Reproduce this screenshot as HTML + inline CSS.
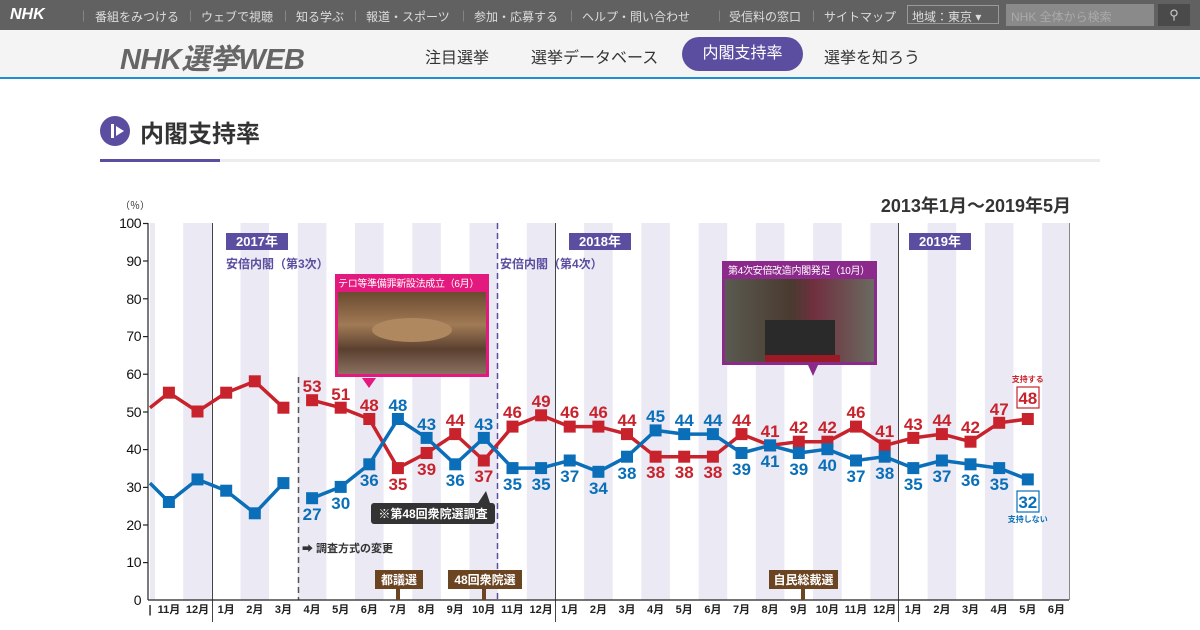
<!DOCTYPE html>
<html><head><meta charset="utf-8"><style>
body{margin:0;width:1200px;height:630px;overflow:hidden;background:#fff;font-family:"Liberation Sans","Noto Sans CJK JP",sans-serif;position:relative}
.top{position:absolute;left:0;top:0;width:1200px;height:30px;background:#616161;color:#ddd;font-size:12px}
.top span{position:absolute;top:8px}
.sub{position:absolute;left:0;top:30px;width:1200px;height:47px;background:#f4f4f4;border-bottom:2px solid #1f8fcf}
.sub .n{position:absolute;top:14px;font-size:16px;color:#333}
</style></head><body>
<div class="top">
<span style="left:10px;top:6px;font:italic bold 16px 'Liberation Sans',sans-serif;color:#fff">NHK</span>
<span style="left:82px;color:#888">|</span><span style="left:95px">番組をみつける</span>
<span style="left:189px;color:#888">|</span><span style="left:201px">ウェブで視聴</span>
<span style="left:284px;color:#888">|</span><span style="left:296px">知る学ぶ</span>
<span style="left:354px;color:#888">|</span><span style="left:366px">報道・スポーツ</span>
<span style="left:462px;color:#888">|</span><span style="left:474px">参加・応募する</span>
<span style="left:570px;color:#888">|</span><span style="left:582px">ヘルプ・問い合わせ</span>
<span style="left:718px;color:#888">|</span><span style="left:729px">受信料の窓口</span>
<span style="left:812px;color:#888">|</span><span style="left:824px">サイトマップ</span>
<div style="position:absolute;left:907px;top:5px;width:92px;height:19px;border:1px solid #999;box-sizing:border-box;font-size:12px;padding:2px 4px">地域：東京 ▾</div>
<div style="position:absolute;left:1006px;top:4px;width:148px;height:22px;background:#8a8a8a;color:#aaa;font-size:12px;padding:4px 5px;box-sizing:border-box">NHK 全体から検索</div>
<div style="position:absolute;left:1158px;top:4px;width:32px;height:22px;background:#4a4a4a;color:#ccc;text-align:center;font-size:13px;line-height:22px">⚲</div>
</div>
<div class="sub">
<span style="position:absolute;left:120px;top:6px;font:italic bold 29px 'Liberation Sans','Noto Sans CJK JP',sans-serif;color:#666;letter-spacing:-0.5px">NHK選挙WEB</span>
<span class="n" style="left:425px">注目選挙</span>
<span class="n" style="left:531px">選挙データベース</span>
<div style="position:absolute;left:682px;top:7px;width:121px;height:34px;border-radius:17px;background:#5b4ea0;color:#fff;font-size:16px;text-align:center;line-height:34px">内閣支持率</div>
<span class="n" style="left:824px">選挙を知ろう</span>
</div>
<div style="position:absolute;left:100px;top:116px;width:30px;height:30px;border-radius:50%;background:#5b4ea0"></div>
<div style="position:absolute;left:111px;top:124px;width:3px;height:14px;background:#fff"></div>
<div style="position:absolute;left:116px;top:126px;width:0;height:0;border-left:8px solid #fff;border-top:5px solid transparent;border-bottom:5px solid transparent"></div>
<div style="position:absolute;left:140px;top:114px;font-size:24px;font-weight:bold;color:#333">内閣支持率</div>
<div style="position:absolute;left:100px;top:159px;width:1000px;height:3px;background:#ececec"></div>
<div style="position:absolute;left:100px;top:159px;width:120px;height:3px;background:#5b4ea0"></div>

<svg width="1200" height="630" style="position:absolute;left:0;top:0" font-family="Liberation Sans, Noto Sans CJK JP, sans-serif">
<g fill="#ebeaf4">
<rect x="150" y="223" width="5" height="377"/>
<rect x="183.2" y="223" width="28.6" height="377"/>
<rect x="240.5" y="223" width="28.6" height="377"/>
<rect x="297.8" y="223" width="28.6" height="377"/>
<rect x="355" y="223" width="28.6" height="377"/>
<rect x="412.3" y="223" width="28.6" height="377"/>
<rect x="469.5" y="223" width="28.6" height="377"/>
<rect x="526.8" y="223" width="28.6" height="377"/>
<rect x="584.1" y="223" width="28.6" height="377"/>
<rect x="641.3" y="223" width="28.6" height="377"/>
<rect x="698.6" y="223" width="28.6" height="377"/>
<rect x="755.8" y="223" width="28.6" height="377"/>
<rect x="813.1" y="223" width="28.6" height="377"/>
<rect x="870.4" y="223" width="28.6" height="377"/>
<rect x="927.6" y="223" width="28.6" height="377"/>
<rect x="984.9" y="223" width="28.6" height="377"/>
<rect x="1042.1" y="223" width="27" height="377"/>
</g>
<g stroke="#444" stroke-width="1">
<line x1="212.5" y1="223" x2="212.5" y2="622"/>
<line x1="555.5" y1="223" x2="555.5" y2="622"/>
<line x1="898.5" y1="223" x2="898.5" y2="622"/>
<line x1="1069.5" y1="223" x2="1069.5" y2="600" stroke="#888"/>
</g>
<line x1="298.5" y1="377" x2="298.5" y2="600" stroke="#555" stroke-width="1.5" stroke-dasharray="6,4"/>
<line x1="497.5" y1="223" x2="497.5" y2="600" stroke="#5b4ea0" stroke-width="1.5" stroke-dasharray="6,4"/>
<g stroke="#222" stroke-width="1.2">
<line x1="148" y1="223" x2="148" y2="600"/>
<line x1="148" y1="600" x2="1069" y2="600"/>
<line x1="143" y1="223.5" x2="148" y2="223.5"/><line x1="143" y1="261" x2="148" y2="261"/><line x1="143" y1="298.8" x2="148" y2="298.8"/><line x1="143" y1="336.6" x2="148" y2="336.6"/><line x1="143" y1="374.2" x2="148" y2="374.2"/><line x1="143" y1="412" x2="148" y2="412"/><line x1="143" y1="449.6" x2="148" y2="449.6"/><line x1="143" y1="487.4" x2="148" y2="487.4"/><line x1="143" y1="525" x2="148" y2="525"/><line x1="143" y1="562.6" x2="148" y2="562.6"/>
</g>
<g font-size="14" text-anchor="end" fill="#111" letter-spacing="-0.5">
<text x="141" y="228">100</text><text x="141" y="266">90</text><text x="141" y="304">80</text><text x="141" y="341">70</text><text x="141" y="379">60</text><text x="141" y="417">50</text><text x="141" y="454">40</text><text x="141" y="492">30</text><text x="141" y="530">20</text><text x="141" y="567">10</text><text x="141" y="605">0</text>
</g>
<text x="120" y="209" font-size="10" fill="#333">（％）</text>
<text x="1071" y="212" font-size="18" font-weight="bold" text-anchor="end" fill="#333">2013年1月～2019年5月</text>
<g font-size="11" font-weight="bold" text-anchor="middle" fill="#222">
<text x="150" y="613">|</text>
<text x="168.9" y="613">11月</text><text x="197.5" y="613">12月</text><text x="226.2" y="613">1月</text><text x="254.8" y="613">2月</text><text x="283.4" y="613">3月</text><text x="312.1" y="613">4月</text><text x="340.7" y="613">5月</text><text x="369.3" y="613">6月</text><text x="397.9" y="613">7月</text><text x="426.6" y="613">8月</text><text x="455.2" y="613">9月</text><text x="483.8" y="613">10月</text><text x="512.5" y="613">11月</text><text x="541.1" y="613">12月</text><text x="569.7" y="613">1月</text><text x="598.4" y="613">2月</text><text x="627" y="613">3月</text><text x="655.6" y="613">4月</text><text x="684.2" y="613">5月</text><text x="712.9" y="613">6月</text><text x="741.5" y="613">7月</text><text x="770.1" y="613">8月</text><text x="798.8" y="613">9月</text><text x="827.4" y="613">10月</text><text x="856" y="613">11月</text><text x="884.7" y="613">12月</text><text x="913.3" y="613">1月</text><text x="941.9" y="613">2月</text><text x="970.5" y="613">3月</text><text x="999.2" y="613">4月</text><text x="1027.8" y="613">5月</text><text x="1056.4" y="613">6月</text>
</g>
<rect x="226" y="233" width="62" height="17" fill="#5b4ea0"/><text x="257" y="246" font-size="13" font-weight="bold" fill="#fff" text-anchor="middle">2017年</text>
<rect x="569" y="233" width="62" height="17" fill="#5b4ea0"/><text x="600" y="246" font-size="13" font-weight="bold" fill="#fff" text-anchor="middle">2018年</text>
<rect x="909" y="233" width="62" height="17" fill="#5b4ea0"/><text x="940" y="246" font-size="13" font-weight="bold" fill="#fff" text-anchor="middle">2019年</text>
<text x="226" y="268" font-size="12" font-weight="bold" fill="#5b4ea0">安倍内閣（第3次）</text>
<text x="500" y="268" font-size="12" font-weight="bold" fill="#5b4ea0">安倍内閣（第4次）</text>
<defs>
<linearGradient id="g1" x1="0" y1="0" x2="0" y2="1"><stop offset="0" stop-color="#6b4a30"/><stop offset="0.4" stop-color="#a07a55"/><stop offset="0.7" stop-color="#5b4030"/><stop offset="1" stop-color="#8a7060"/></linearGradient>
<linearGradient id="g2" x1="0" y1="0" x2="1" y2="0"><stop offset="0" stop-color="#5a5a50"/><stop offset="0.45" stop-color="#4a3a30"/><stop offset="0.6" stop-color="#703040"/><stop offset="1" stop-color="#6a6a60"/></linearGradient>
</defs>
<rect x="335" y="274" width="154" height="103" fill="#e4197d"/>
<text x="338" y="287" font-size="10" fill="#fff" letter-spacing="-0.3">テロ等準備罪新設法成立（6月）</text>
<rect x="338" y="292" width="148" height="82" fill="url(#g1)"/>
<ellipse cx="412" cy="330" rx="40" ry="12" fill="#b08860"/>
<polygon points="362,378 376,378 369,388" fill="#e4197d"/>
<rect x="722" y="261" width="155" height="104" fill="#8c2a8c"/>
<text x="728" y="274" font-size="10" fill="#fff" letter-spacing="-0.3">第4次安倍改造内閣発足（10月）</text>
<rect x="725" y="279" width="149" height="83" fill="url(#g2)"/>
<rect x="765" y="320" width="70" height="40" fill="#2a2a2a"/>
<rect x="765" y="355" width="75" height="7" fill="#9a1a25"/>
<polygon points="808,365 818,365 813,376" fill="#8c2a8c"/>
<g fill="none" stroke-width="3.5" stroke-linejoin="round">
<polyline stroke="#c8232c" points="150,407.7 168.9,392.7 197.5,411.5 226.2,392.7 254.8,381.3 283.4,407.7"/>
<polyline stroke="#c8232c" points="312.1,400.2 340.7,407.7 369.3,419 397.9,468.1 426.6,453 455.2,434.1 483.8,460.5 512.5,426.6 541.1,415.3 569.7,426.6 598.4,426.6 627,434.1 655.6,456.7 684.2,456.7 712.9,456.7 741.5,434.1 770.1,445.4 798.8,441.7 827.4,441.7 856,426.6 884.7,445.4 913.3,437.9 941.9,434.1 970.5,441.7 999.2,422.8 1027.8,419"/>
<polyline stroke="#0a6fb8" points="150,483.1 168.9,502 197.5,479.4 226.2,490.7 254.8,513.3 283.4,483.1"/>
<polyline stroke="#0a6fb8" points="312.1,498.2 340.7,486.9 369.3,464.3 397.9,419 426.6,437.9 455.2,464.3 483.8,437.9 512.5,468.1 541.1,468.1 569.7,460.5 598.4,471.8 627,456.7 655.6,430.4 684.2,434.1 712.9,434.1 741.5,453 770.1,445.4 798.8,453 827.4,449.2 856,460.5 884.7,456.7 913.3,468.1 941.9,460.5 970.5,464.3 999.2,468.1 1027.8,479.4"/>
</g>
<g fill="#c8232c">
<rect x="162.9" y="386.7" width="12" height="12"/><rect x="191.5" y="405.5" width="12" height="12"/><rect x="220.2" y="386.7" width="12" height="12"/><rect x="248.8" y="375.3" width="12" height="12"/><rect x="277.4" y="401.7" width="12" height="12"/>
<rect x="306.1" y="394.2" width="12" height="12"/><rect x="334.7" y="401.7" width="12" height="12"/><rect x="363.3" y="413" width="12" height="12"/><rect x="391.9" y="462.1" width="12" height="12"/><rect x="420.6" y="447" width="12" height="12"/><rect x="449.2" y="428.1" width="12" height="12"/><rect x="477.8" y="454.5" width="12" height="12"/><rect x="506.5" y="420.6" width="12" height="12"/><rect x="535.1" y="409.3" width="12" height="12"/><rect x="563.7" y="420.6" width="12" height="12"/><rect x="592.4" y="420.6" width="12" height="12"/><rect x="621" y="428.1" width="12" height="12"/><rect x="649.6" y="450.7" width="12" height="12"/><rect x="678.2" y="450.7" width="12" height="12"/><rect x="706.9" y="450.7" width="12" height="12"/><rect x="735.5" y="428.1" width="12" height="12"/><rect x="764.1" y="439.4" width="12" height="12"/><rect x="792.8" y="435.7" width="12" height="12"/><rect x="821.4" y="435.7" width="12" height="12"/><rect x="850" y="420.6" width="12" height="12"/><rect x="878.7" y="439.4" width="12" height="12"/><rect x="907.3" y="431.9" width="12" height="12"/><rect x="935.9" y="428.1" width="12" height="12"/><rect x="964.5" y="435.7" width="12" height="12"/><rect x="993.2" y="416.8" width="12" height="12"/><rect x="1021.8" y="413" width="12" height="12"/>
</g>
<g fill="#0a6fb8">
<rect x="162.9" y="496" width="12" height="12"/><rect x="191.5" y="473.4" width="12" height="12"/><rect x="220.2" y="484.7" width="12" height="12"/><rect x="248.8" y="507.3" width="12" height="12"/><rect x="277.4" y="477.1" width="12" height="12"/>
<rect x="306.1" y="492.2" width="12" height="12"/><rect x="334.7" y="480.9" width="12" height="12"/><rect x="363.3" y="458.3" width="12" height="12"/><rect x="391.9" y="413" width="12" height="12"/><rect x="420.6" y="431.9" width="12" height="12"/><rect x="449.2" y="458.3" width="12" height="12"/><rect x="477.8" y="431.9" width="12" height="12"/><rect x="506.5" y="462.1" width="12" height="12"/><rect x="535.1" y="462.1" width="12" height="12"/><rect x="563.7" y="454.5" width="12" height="12"/><rect x="592.4" y="465.8" width="12" height="12"/><rect x="621" y="450.7" width="12" height="12"/><rect x="649.6" y="424.4" width="12" height="12"/><rect x="678.2" y="428.1" width="12" height="12"/><rect x="706.9" y="428.1" width="12" height="12"/><rect x="735.5" y="447" width="12" height="12"/><rect x="764.1" y="439.4" width="12" height="12"/><rect x="792.8" y="447" width="12" height="12"/><rect x="821.4" y="443.2" width="12" height="12"/><rect x="850" y="454.5" width="12" height="12"/><rect x="878.7" y="450.7" width="12" height="12"/><rect x="907.3" y="462.1" width="12" height="12"/><rect x="935.9" y="454.5" width="12" height="12"/><rect x="964.5" y="458.3" width="12" height="12"/><rect x="993.2" y="462.1" width="12" height="12"/><rect x="1021.8" y="473.4" width="12" height="12"/>
</g>
<g fill="#c8232c" font-size="17" font-weight="bold" text-anchor="middle">
<text x="312.1" y="392">53</text><text x="340.7" y="400">51</text><text x="369.3" y="411">48</text><text x="397.9" y="490">35</text><text x="426.6" y="475">39</text><text x="455.2" y="426">44</text><text x="483.8" y="482">37</text><text x="512.5" y="418">46</text><text x="541.1" y="407">49</text><text x="569.7" y="418">46</text><text x="598.4" y="418">46</text><text x="627" y="426">44</text><text x="655.6" y="478">38</text><text x="684.2" y="478">38</text><text x="712.9" y="478">38</text><text x="741.5" y="426">44</text><text x="770.1" y="437">41</text><text x="798.8" y="433">42</text><text x="827.4" y="433">42</text><text x="856" y="418">46</text><text x="884.7" y="437">41</text><text x="913.3" y="430">43</text><text x="941.9" y="426">44</text><text x="970.5" y="433">42</text><text x="999.2" y="415">47</text>
<text x="1027.8" y="404">48</text>
</g>
<rect x="1017" y="387" width="22" height="21" fill="none" stroke="#c8232c" stroke-width="1.2"/>
<text x="1027.8" y="382" font-size="8" font-weight="bold" fill="#c8232c" text-anchor="middle">支持する</text>
<g fill="#0a6fb8" font-size="17" font-weight="bold" text-anchor="middle">
<text x="312.1" y="520">27</text><text x="340.7" y="509">30</text><text x="369.3" y="486">36</text><text x="397.9" y="411">48</text><text x="426.6" y="430">43</text><text x="455.2" y="486">36</text><text x="483.8" y="430">43</text><text x="512.5" y="490">35</text><text x="541.1" y="490">35</text><text x="569.7" y="482">37</text><text x="598.4" y="494">34</text><text x="627" y="479">38</text><text x="655.6" y="422">45</text><text x="684.2" y="426">44</text><text x="712.9" y="426">44</text><text x="741.5" y="475">39</text><text x="770.1" y="467">41</text><text x="798.8" y="475">39</text><text x="827.4" y="471">40</text><text x="856" y="482">37</text><text x="884.7" y="479">38</text><text x="913.3" y="490">35</text><text x="941.9" y="482">37</text><text x="970.5" y="486">36</text><text x="999.2" y="490">35</text>
<text x="1027.8" y="508">32</text>
</g>
<rect x="1017" y="491" width="22" height="21" fill="none" stroke="#0a6fb8" stroke-width="1.2"/>
<text x="1027.8" y="522" font-size="8" font-weight="bold" fill="#0a6fb8" text-anchor="middle">支持しない</text>
<polygon points="478,503 490,503 486,491" fill="#333"/>
<rect x="371" y="503" width="124" height="21" rx="3" fill="#333"/>
<text x="433" y="518" font-size="12" font-weight="bold" fill="#fff" text-anchor="middle">※第48回衆院選調査</text>
<text x="302" y="552" font-size="11" font-weight="bold" fill="#333">➡ 調査方式の変更</text>
<rect x="375" y="570" width="48" height="19" fill="#6b4422"/><text x="399" y="584" font-size="12" font-weight="bold" fill="#fff" text-anchor="middle">都議選</text><rect x="396" y="589" width="4" height="11" fill="#6b4422"/>
<rect x="448" y="570" width="74" height="19" fill="#6b4422"/><text x="485" y="584" font-size="12" font-weight="bold" fill="#fff" text-anchor="middle">48回衆院選</text><rect x="482" y="589" width="4" height="11" fill="#6b4422"/>
<rect x="769" y="570" width="69" height="19" fill="#6b4422"/><text x="803.5" y="584" font-size="12" font-weight="bold" fill="#fff" text-anchor="middle">自民総裁選</text><rect x="801" y="589" width="4" height="11" fill="#6b4422"/>
</svg>
</body></html>
